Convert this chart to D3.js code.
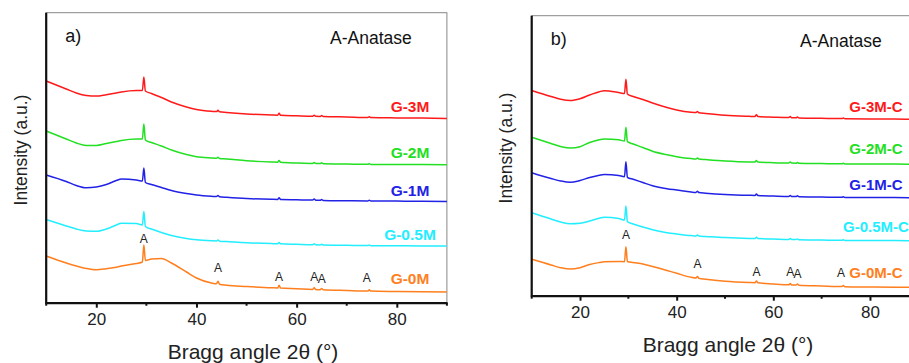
<!DOCTYPE html>
<html lang="en">
<head>
<meta charset="UTF-8">
<title>XRD patterns</title>
<script src="https://d3js.org/d3.v7.min.js"></script>
<style>
  body { margin: 0; background: #fff; }
  svg text { font-family: "Liberation Sans", Arial, sans-serif; }
</style>
</head>
<body>
<div id="chart"></div>
<script>
// 2theta sampling points (deg)
const twoTheta = [10, 14, 16, 18, 20, 22, 24, 25, 28, 29.2, 29.5, 29.8, 31, 33, 35, 38, 40, 43,
  44, 44.3, 44.6, 46, 50, 55, 56.2, 56.5, 56.8, 60, 63.2, 63.5, 63.8, 64.7, 65, 65.3,
  70, 74.2, 74.5, 74.8, 80, 85, 90];

// panel a) intensities (a.u., stacked)
const g3M  = [2217, 2137, 2097, 2072, 2066, 2080, 2097, 2107, 2122, 2122, 2257, 2117, 2092, 2052, 2007, 1957, 1932, 1914,
  1911, 1924, 1909, 1902, 1887, 1877, 1875, 1894, 1874, 1869, 1865, 1875, 1864, 1863, 1871, 1862,
  1857, 1852, 1859, 1851, 1848, 1846, 1843];
const g2M  = [1717, 1637, 1597, 1572, 1572, 1592, 1612, 1622, 1637, 1637, 1787, 1627, 1602, 1567, 1527, 1482, 1460, 1447,
  1444, 1455, 1442, 1437, 1419, 1407, 1405, 1422, 1404, 1397, 1393, 1403, 1392, 1391, 1399, 1390,
  1387, 1384, 1390, 1383, 1382, 1381, 1379];
const g1M  = [1277, 1212, 1172, 1149, 1157, 1182, 1222, 1237, 1227, 1217, 1347, 1202, 1182, 1152, 1122, 1092, 1077, 1064,
  1061, 1072, 1059, 1054, 1042, 1034, 1033, 1050, 1032, 1029, 1026, 1037, 1025, 1024, 1032, 1023,
  1020, 1018, 1024, 1017, 1016, 1015, 1013];
const g05M = [832, 767, 737, 717, 714, 737, 777, 795, 792, 777, 912, 762, 737, 702, 672, 642, 629, 619,
  617, 627, 615, 611, 599, 591, 590, 601, 589, 584, 580, 589, 579, 578, 585, 577,
  574, 571, 577, 570, 569, 568, 566];
const g0M  = [467, 397, 367, 342, 329, 340, 355, 367, 392, 407, 577, 422, 437, 442, 397, 307, 247, 197,
  189, 214, 185, 175, 162, 149, 147, 174, 146, 140, 133, 149, 132, 130, 142, 129,
  122, 117, 129, 116, 112, 109, 107];

// panel b) intensities (a.u., stacked)
const g3MC  = [2052, 1992, 1965, 1952, 1970, 2007, 2040, 2050, 2032, 2022, 2164, 2017, 1992, 1962, 1927, 1882, 1857, 1834,
  1831, 1842, 1829, 1822, 1805, 1794, 1792, 1809, 1791, 1785, 1781, 1791, 1780, 1779, 1787, 1778,
  1774, 1771, 1777, 1770, 1768, 1766, 1764];
const g2MC  = [1584, 1522, 1492, 1476, 1490, 1532, 1559, 1567, 1559, 1547, 1684, 1540, 1517, 1482, 1444, 1409, 1390, 1371,
  1368, 1378, 1366, 1361, 1348, 1338, 1337, 1351, 1336, 1330, 1327, 1337, 1326, 1325, 1333, 1324,
  1321, 1319, 1325, 1318, 1317, 1316, 1314];
const g1MC  = [1230, 1172, 1147, 1134, 1152, 1182, 1205, 1212, 1202, 1190, 1340, 1184, 1164, 1132, 1100, 1070, 1057, 1037,
  1033, 1044, 1031, 1025, 1012, 1004, 1003, 1017, 1002, 997, 993, 1003, 992, 991, 999, 990,
  987, 984, 990, 983, 982, 981, 979];
const g05MC = [830, 767, 737, 719, 724, 747, 775, 785, 772, 757, 897, 740, 717, 687, 659, 630, 617, 601,
  598, 608, 596, 592, 581, 573, 572, 585, 571, 567, 563, 572, 562, 561, 568, 560,
  557, 554, 560, 553, 552, 551, 549];
const g0MC  = [364, 307, 280, 266, 280, 312, 332, 340, 342, 340, 490, 342, 332, 317, 292, 252, 224, 184,
  177, 192, 173, 164, 145, 132, 130, 147, 129, 117, 109, 121, 108, 106, 116, 105,
  97, 91, 101, 90, 87, 85, 83];

const namesA = ["G-3M", "G-2M", "G-1M", "G-0.5M", "G-0M"];
const namesB = ["G-3M-C", "G-2M-C", "G-1M-C", "G-0.5M-C", "G-0M-C"];
const colors = ["#ff1a1a", "#22e022", "#2222e6", "#22eeff", "#ff7f1e"];
const xTicks = [20, 40, 60, 80];

// anatase reflections, label height in a.u.
const peaksA = [[29.5, 640], [44.3, 345], [56.5, 260], [63.5, 257], [65, 240], [74, 244]];
const peaksB = [[29.5, 607], [44.3, 317], [56.5, 240], [63.5, 240], [65, 217], [74, 224]];
const labelYA = [1960, 1507, 1127, 687, 247];
const labelYB = [1897, 1474, 1114, 690, 230];

const svg = d3.select("#chart").append("svg")
  .attr("width", 909).attr("height", 363);

function panel(opt) {
  const x = d3.scaleLinear().domain([10, 90]).range([opt.left, opt.right]);
  const y = d3.scaleLinear().domain([0, opt.ymax]).range([opt.bottom, opt.top]);
  const g = svg.append("g");

  // frame: thin grey top/right
  g.append("rect")
    .attr("x", opt.left).attr("y", opt.top)
    .attr("width", opt.right - opt.left).attr("height", opt.bottom - opt.top)
    .attr("fill", "none").attr("stroke", "#888").attr("stroke-width", 1);

  const line = d3.line()
    .x((d, i) => x(twoTheta[i]))
    .y(d => y(d))
    .curve(d3.curveMonotoneX);

  opt.series.forEach((s, k) => {
    g.append("path")
      .attr("d", line(s))
      .attr("fill", "none")
      .attr("stroke", colors[k])
      .attr("stroke-width", 1.5);
    g.append("text")
      .attr("x", opt.labelX)
      .attr("y", y(opt.labelY[k]))
      .attr("text-anchor", "middle")
      .attr("dominant-baseline", "central")
      .attr("font-size", opt.labelSize)
      .attr("font-weight", "bold")
      .attr("fill", colors[k])
      .text(opt.names[k]);
  });

  opt.peaks.forEach(p => {
    g.append("text")
      .attr("x", x(p[0]))
      .attr("y", y(p[1]))
      .attr("text-anchor", "middle")
      .attr("dominant-baseline", "central")
      .attr("font-size", 12)
      .attr("fill", "#222")
      .text("A");
  });

  // axes
  const xAxis = g.append("g")
    .attr("transform", `translate(0,${opt.bottom})`)
    .call(d3.axisBottom(x).tickValues(xTicks).tickSize(5).tickSizeOuter(0).tickPadding(5));
  xAxis.select(".domain").attr("stroke", "#111").attr("stroke-width", 2.2);
  xAxis.selectAll(".tick line").attr("stroke", "#111").attr("stroke-width", 2);
  xAxis.selectAll(".tick text").attr("font-size", 17).attr("fill", "#222")
    .style("font-family", "'Liberation Sans', Arial, sans-serif");

  g.append("g")
    .attr("transform", `translate(0,${opt.bottom})`)
    .selectAll("line")
    .data([10, 30, 50, 70, 90])
    .join("line")
    .attr("x1", d => x(d)).attr("x2", d => x(d))
    .attr("y1", 0).attr("y2", 3)
    .attr("stroke", "#111").attr("stroke-width", 2);

  g.append("line")
    .attr("x1", opt.left).attr("x2", opt.left)
    .attr("y1", opt.top).attr("y2", opt.bottom + 1)
    .attr("stroke", "#111").attr("stroke-width", 2.2);

  g.append("text")
    .attr("x", opt.titleX).attr("y", opt.titleY)
    .attr("text-anchor", "middle")
    .attr("font-size", 21).attr("fill", "#222")
    .text("Bragg angle 2θ (°)");

  g.append("text")
    .attr("transform", `translate(${opt.yTitleX},${opt.yTitleY}) rotate(-90)`)
    .attr("text-anchor", "middle")
    .attr("dominant-baseline", "central")
    .attr("font-size", 17.5).attr("fill", "#222")
    .text("Intensity (a.u.)");

  g.append("text")
    .attr("x", opt.left + 19).attr("y", opt.top + 23)
    .attr("dominant-baseline", "central")
    .attr("font-size", 18).attr("fill", "#111")
    .text(opt.tag);

  g.append("text")
    .attr("x", opt.anataseX).attr("y", opt.top + 25)
    .attr("dominant-baseline", "central")
    .attr("font-size", 17.5).attr("fill", "#111")
    .text("A-Anatase");
}

panel({
  left: 46.2, right: 446.9, top: 12.7, bottom: 302.7, ymax: 2900,
  series: [g3M, g2M, g1M, g05M, g0M], names: namesA, labelY: labelYA,
  labelX: 410, labelSize: 15.5,
  peaks: peaksA, tag: "a)", anataseX: 330, titleX: 253, titleY: 359, yTitleX: 21, yTitleY: 150
});

panel({
  left: 531.7, right: 918.3, top: 15.7, bottom: 295.7, ymax: 2800,
  series: [g3MC, g2MC, g1MC, g05MC, g0MC], names: namesB, labelY: labelYB,
  labelX: 876, labelSize: 15,
  peaks: peaksB, tag: "b)", anataseX: 800, titleX: 728, titleY: 352, yTitleX: 506, yTitleY: 148
});
</script>
</body>
</html>
